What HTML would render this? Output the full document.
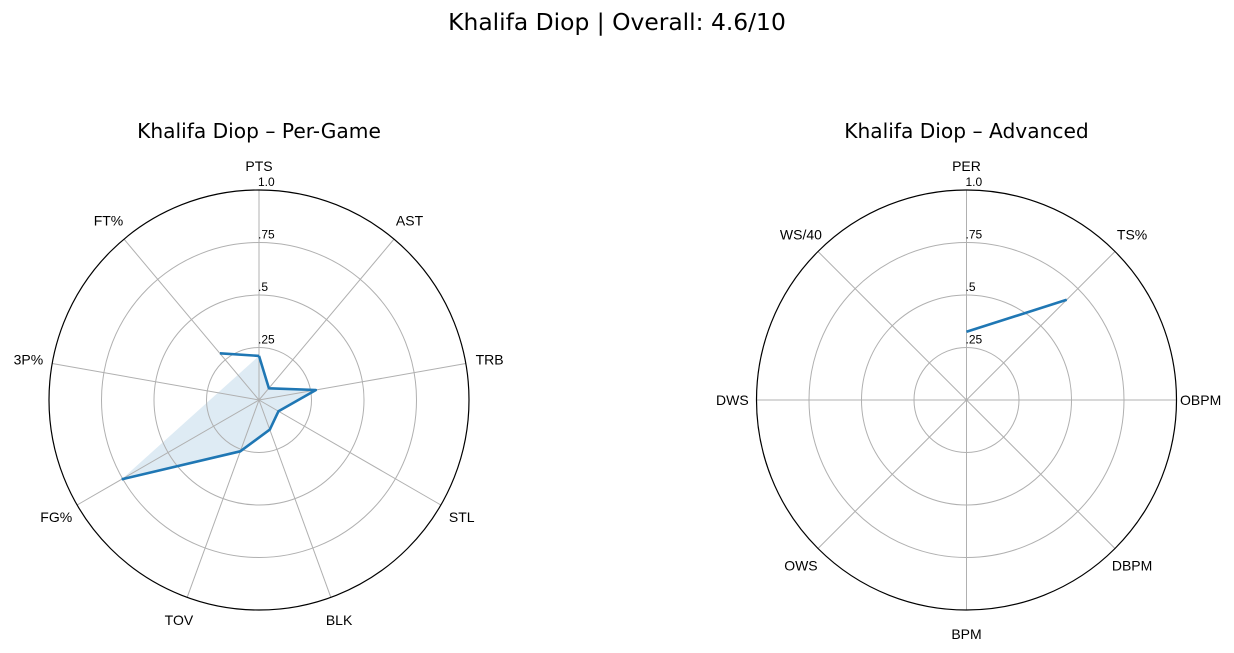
<!DOCTYPE html>
<html><head><meta charset="utf-8"><style>
html,body{margin:0;padding:0;background:#fff;}
svg{display:block;font-family:"Liberation Sans","DejaVu Sans",sans-serif;}
</style></head><body>
<svg id="chart" width="1234" height="653" viewBox="0 0 1234 653">
<text x="617" y="30" text-anchor="middle" font-size="23.4" font-family="DejaVu Sans, sans-serif" fill="#000">Khalifa Diop | Overall: 4.6/10</text>
</svg>
<script>
const leftCategories = ["PTS","AST","TRB","STL","BLK","TOV","FG%","3P%","FT%"];
const leftValues = [0.21,0.073,0.275,0.107,0.15,0.26,0.755,null,0.29];
const rightCategories = ["PER","TS%","OBPM","DBPM","BPM","OWS","DWS","WS/40"];
const rightValues = [0.325,0.675,null,null,null,null,null,null];
const ringTicks = [0.25,0.5,0.75,1.0];
const ringLabels = [".25",".5",".75","1.0"];

const NS="http://www.w3.org/2000/svg";
const svg=document.getElementById('chart');
function mk(tag,attrs,parent){const e=document.createElementNS(NS,tag);for(const k in attrs)e.setAttribute(k,attrs[k]);(parent||svg).appendChild(e);return e;}

function radar(cx,cy,R,title,cats,vals,fillPoly,key){
  const g=mk('g',{});
  
  
  const n=cats.length;
  const ang=i=>i*2*Math.PI/n;
  const pt=(i,v)=>[cx+Math.sin(ang(i))*v*R, cy-Math.cos(ang(i))*v*R];
  const t=mk('text',{x:cx,y:138,'text-anchor':'middle','font-size':20.2,'font-family':'DejaVu Sans, sans-serif',fill:'#000'},g);
  t.textContent=title;
  
  
  if(fillPoly){
    const pts=[];
    for(let i=0;i<n;i++){if(vals[i]==null)break;pts.push(pt(i,vals[i]).join(','));}
    const f=mk('polygon',{points:pts.join(' '),fill:'#1f77b4','fill-opacity':0.15,stroke:'none'},g);
    
    
  }
  ringTicks.forEach((r,j)=>{
    if(r<1){const c=mk('circle',{cx:cx,cy:cy,r:r*R,fill:'none',stroke:'#b0b0b0','stroke-width':1},g);
    
    }
  });
  cats.forEach((c,i)=>{
    const p=pt(i,1);
    const l=mk('line',{x1:cx,y1:cy,x2:p[0],y2:p[1],stroke:'#b0b0b0','stroke-width':1},g);
    
    
    const q=pt(i,1.115);
    const tx=mk('text',{x:q[0],y:q[1]+5,'text-anchor':'middle','font-size':14,fill:'#000'},g);
    tx.textContent=c;
    
    
  });
  const oc=mk('circle',{cx:cx,cy:cy,r:R,fill:'none',stroke:'#000','stroke-width':1.2},g);
  
  
  ringTicks.forEach((r,j)=>{
    const tl=mk('text',{x:cx-1,y:cy-r*R-4,'font-size':12,fill:'#000'},g);
    tl.textContent=ringLabels[j];
    
    
  });
  let d='';let pen=false;
  for(let k=0;k<=n;k++){
    const i=k%n;const v=vals[i];
    if(v==null){pen=false;continue;}
    const p=pt(i,v);
    d+=(pen?'L':'M')+p[0].toFixed(1)+','+p[1].toFixed(1)+' ';pen=true;
  }
  const ln=mk('path',{d:d,fill:'none',stroke:'#1f77b4','stroke-width':2.6,'stroke-linejoin':'round'},g);
  
  
}
radar(259,400,210,"Khalifa Diop – Per-Game",leftCategories,leftValues,true,'per-game');
radar(966.5,400,210,"Khalifa Diop – Advanced",rightCategories,rightValues,false,'advanced');
</script>
</body></html>
